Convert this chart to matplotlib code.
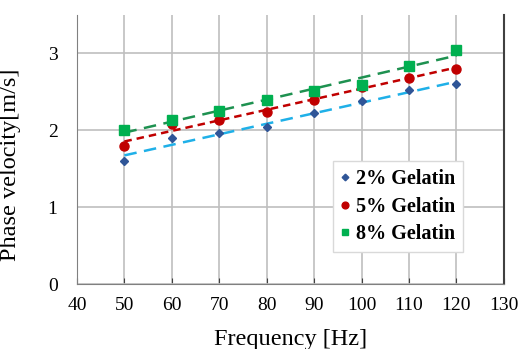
import numpy as np
import matplotlib.pyplot as plt

plt.rcParams['font.family'] = ['Liberation Serif', 'DejaVu Serif']

# data
freq = [50, 60, 70, 80, 90, 100, 110, 120]
gel2 = [1.60, 1.90, 1.97, 2.04, 2.22, 2.38, 2.52, 2.60]
gel5 = [1.79, 2.08, 2.13, 2.24, 2.40, 2.57, 2.68, 2.80]
gel8 = [2.00, 2.13, 2.25, 2.40, 2.51, 2.59, 2.84, 3.05]

fig = plt.figure(figsize=(5.2, 3.49), dpi=100)
ax = fig.add_axes([0.148, 0.186, 0.821, 0.771])

x = np.array(freq)
series = [
    (gel2, 'D', '#2F5597', 4.5, '#1FB0E8', (0, (5, 3)), '2% Gelatin'),
    (gel5, 'o', '#C00000', 6.5, '#C00000', (0, (3, 2)), '5% Gelatin'),
    (gel8, 's', '#00B050', 6.5, '#1E9150', (0, (5, 3)), '8% Gelatin'),
]
for y, mk, mc, ms, lc, ls, lab in series:
    # linear trendline
    p = np.polyfit(x, y, 1)
    ax.plot(x, np.polyval(p, x), color=lc, linestyle=ls, lw=1.8, zorder=2)
    ax.plot(x, y, mk, color=mc, markersize=ms, label=lab, zorder=3, linestyle='none')

ax.set_xlim(40, 130)
ax.set_ylim(0, 3.5)
ax.set_xticks(range(40, 131, 10))
ax.set_yticks([0, 1, 2, 3])
ax.grid(True, color='#BFBFBF', lw=1.2)
ax.set_axisbelow(True)
ax.tick_params(axis='x', labelsize=14, direction='in', length=4, pad=9, color='#404040')
ax.tick_params(axis='y', labelsize=14, length=0, pad=14)
ax.spines['top'].set_visible(False)
ax.spines['left'].set_color('#808080')
ax.spines['bottom'].set_color('#808080')
ax.spines['right'].set_color('#404040')
ax.spines['right'].set_linewidth(1.5)

ax.set_xlabel('Frequency [Hz]', fontsize=17.5, labelpad=11)
ax.set_ylabel('Phase velocity[m/s]', fontsize=17.5)
ax.yaxis.set_label_coords(-0.13, 0.445)

leg = ax.legend(loc='lower right', bbox_to_anchor=(0.928, 0.08), prop={'weight': 'bold', 'size': 14.5},
                frameon=True, fancybox=False, edgecolor='#D9D9D9', framealpha=1,
                handlelength=0.4, handletextpad=0.35, labelspacing=0.38, markerscale=0.75,
                borderpad=0.4)

fig.savefig('out.png', dpi=100)
